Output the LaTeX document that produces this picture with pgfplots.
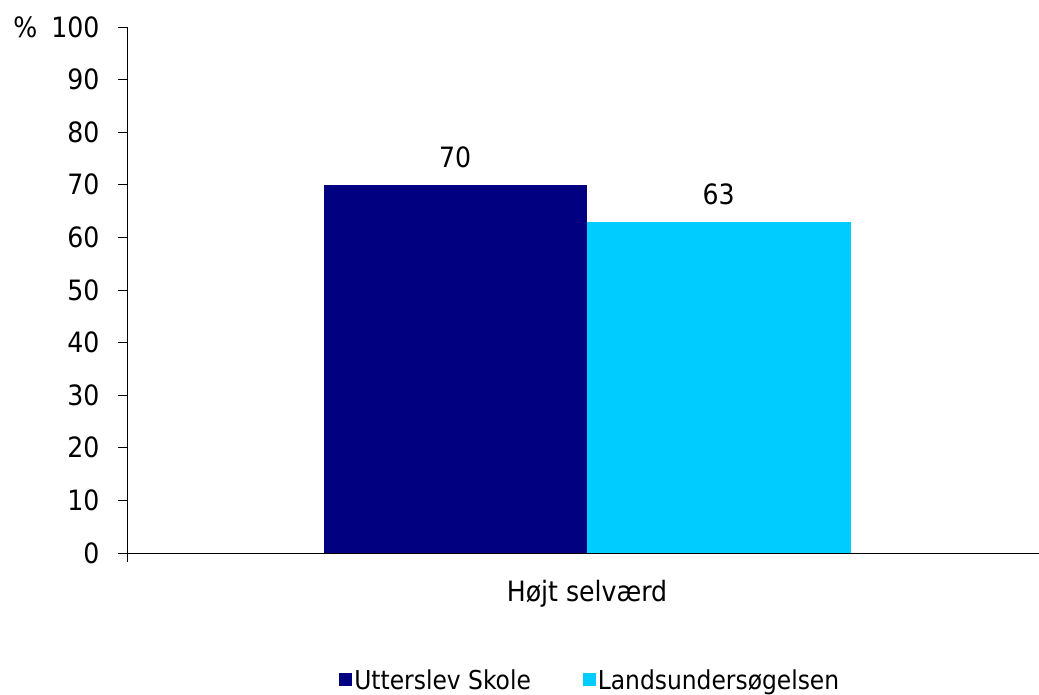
\documentclass[border=0pt]{standalone}
\usepackage{pgfplots}
\pgfplotsset{compat=1.18}
\usepackage{fontspec}
\setmainfont{DejaVu Sans Condensed}
\definecolor{navy}{RGB}{0,0,128}
\definecolor{sky}{RGB}{0,204,255}
\begin{document}
\begin{tikzpicture}[x=1pt,y=1pt]
\useasboundingbox (0,0) rectangle (1039,694);
\begin{axis}[
  at={(127pt,141pt)}, anchor=south west,
  scale only axis, width=912pt, height=526pt,
  xmin=-460, xmax=452, ymin=0, ymax=100,
  axis x line*=bottom, axis y line*=left,
  axis line style={black, line width=0.8pt},
  ytick={0,10,...,100},
  yticklabels={0,10,20,30,40,50,60,70,80,90,{\%\hspace{14pt}100}},
  xtick={-460}, xticklabels={},
  extra x ticks={0}, extra x tick labels={Højt selværd},
  extra x tick style={major tick length=0pt, xticklabel style={yshift=-24pt}},
  tick align=outside, major tick length=9pt,
  tick style={black, line width=0.8pt},
  /pgf/number format/assume math mode=true,
  ticklabel style={font=\fontsize{28}{32}\selectfont},
  yticklabel style={xshift=-15pt},
  ybar, bar width=263.5, 
  nodes near coords,
  every node near coord/.append style={font=\fontsize{28}{32}\selectfont, yshift=13pt, black},
  legend style={at={(0.508,-0.2414)}, anchor=center, draw=none, legend columns=2,
    font=\fontsize{26}{30}\selectfont,
    /tikz/every even column/.append style={column sep=50pt}},
  legend image code/.code={\fill[#1] (0pt,-6pt) rectangle (13pt,7pt);},
]
\addplot[fill=navy, draw=none, bar shift=-131.75] coordinates {(0,70)};
\addplot[fill=sky, draw=none, bar shift=131.75] coordinates {(0,63)};
\legend{Utterslev Skole, Landsundersøgelsen}
\end{axis}
\end{tikzpicture}
\end{document}
